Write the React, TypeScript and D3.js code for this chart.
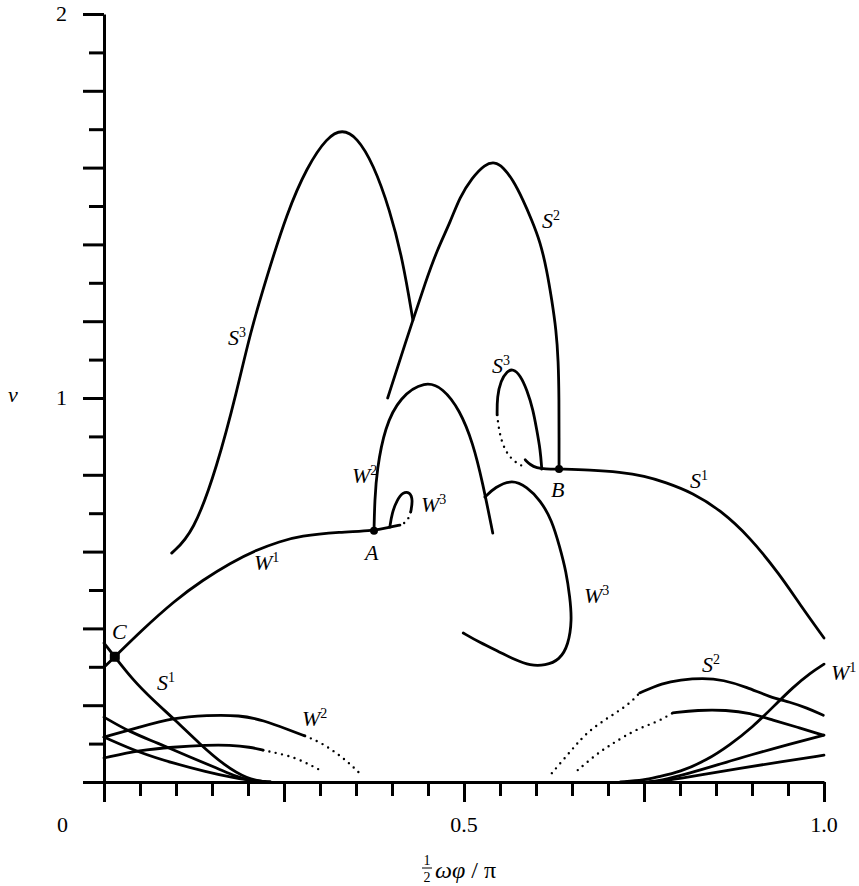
import React, { useEffect, useRef } from "react";
import * as d3 from "d3";

type Pt = [number, number];

// axis ticks
const xMajorTicks = [0, 0.25, 0.5, 0.75, 1.0];
const xMinorTicks = [0.05, 0.1, 0.15, 0.2, 0.3, 0.35, 0.4, 0.45, 0.55, 0.6, 0.65, 0.7, 0.8, 0.85, 0.9, 0.95];
const yMajorTicks = [0, 0.2, 0.4, 0.6, 0.8, 1.0, 1.2, 1.4, 1.6, 1.8, 2.0];
const yMinorTicks = [0.1, 0.3, 0.5, 0.7, 0.9, 1.1, 1.3, 1.5, 1.7, 1.9];
const xTickLabels: [number, string][] = [[0.5, "0.5"], [1.0, "1.0"]];
const yTickLabels: [number, string][] = [[1, "1"], [2, "2"]];

// upper branches
const w1Upper: Pt[] = [[0, 0.299], [0.015, 0.326], [0.05, 0.391], [0.099, 0.474], [0.1375, 0.526], [0.175, 0.57], [0.2125, 0.605], [0.244, 0.626], [0.272, 0.641], [0.328, 0.651], [0.375, 0.654], [0.397, 0.664], [0.411, 0.669]];
const w3SmallSolid: Pt[] = [[0.397, 0.664], [0.4, 0.701], [0.407, 0.734], [0.415, 0.755], [0.425, 0.755], [0.429, 0.734], [0.426, 0.703]];
const w3SmallDots: Pt[] = [[0.426, 0.703], [0.422, 0.682], [0.417, 0.674], [0.411, 0.669]];
const w2Upper: Pt[] = [[0.375, 0.654], [0.376, 0.734], [0.379, 0.8125], [0.39, 0.924], [0.411, 1.003], [0.446, 1.045], [0.471, 1.026], [0.494, 0.969], [0.5125, 0.883], [0.526, 0.779], [0.54, 0.648]];
const w3Big: Pt[] = [[0.529, 0.742], [0.543, 0.768], [0.567, 0.788], [0.5875, 0.768], [0.606, 0.734], [0.622, 0.682], [0.633, 0.612], [0.642, 0.547], [0.647, 0.482], [0.65, 0.422], [0.645, 0.357], [0.633, 0.318], [0.6125, 0.303], [0.592, 0.303], [0.571, 0.318], [0.55, 0.338], [0.522, 0.363], [0.499, 0.388]];
const s3Big: Pt[] = [[0.094, 0.596], [0.124, 0.648], [0.157, 0.82], [0.185, 1.021], [0.203, 1.169], [0.226, 1.315], [0.254, 1.482], [0.282, 1.602], [0.31, 1.68], [0.331, 1.7], [0.351, 1.68], [0.374, 1.61], [0.397, 1.49], [0.415, 1.359], [0.429, 1.203]];
const s2Upper: Pt[] = [[0.394, 1.0], [0.411, 1.099], [0.429, 1.203], [0.446, 1.299], [0.4625, 1.385], [0.481, 1.458], [0.494, 1.523], [0.511, 1.573], [0.529, 1.609], [0.543, 1.615], [0.554, 1.602], [0.568, 1.568], [0.582, 1.516], [0.594, 1.464], [0.606, 1.406], [0.615, 1.333], [0.622, 1.255], [0.628, 1.177], [0.631, 1.099], [0.632, 0.995], [0.632, 0.891], [0.632, 0.815]];
const s3SmallSolid: Pt[] = [[0.546, 0.956], [0.546, 1.003], [0.551, 1.045], [0.56, 1.07], [0.568, 1.076], [0.578, 1.06], [0.5875, 1.021], [0.596, 0.969], [0.601, 0.917], [0.606, 0.865], [0.608, 0.815]];
const s3SmallDots: Pt[] = [[0.546, 0.956], [0.549, 0.911], [0.554, 0.878], [0.561, 0.852], [0.571, 0.833], [0.581, 0.823]];
const s3Hook: Pt[] = [[0.585, 0.839], [0.592, 0.826], [0.601, 0.818], [0.6125, 0.815], [0.632, 0.815]];
const s1Upper: Pt[] = [[0.632, 0.815], [0.675, 0.8125], [0.717, 0.807], [0.751, 0.797], [0.779, 0.781], [0.818, 0.753], [0.856, 0.708], [0.897, 0.638], [0.939, 0.539], [0.967, 0.461], [1.0, 0.375]];

// lower left branches
const s1Lower: Pt[] = [[0, 0.362], [0.015, 0.326], [0.04, 0.266], [0.068, 0.2135], [0.099, 0.161], [0.133, 0.099], [0.168, 0.042], [0.199, 0.008], [0.224, 0]];
const w2LowerSolid: Pt[] = [[0, 0.117], [0.05, 0.143], [0.096, 0.167], [0.143, 0.174], [0.189, 0.174], [0.221, 0.161], [0.258, 0.135], [0.279, 0.12]];
const w2LowerDots: Pt[] = [[0.279, 0.12], [0.3, 0.104], [0.321, 0.078], [0.339, 0.052], [0.356, 0.021]];
const humpLeftSolid: Pt[] = [[0, 0.0625], [0.05, 0.083], [0.096, 0.091], [0.143, 0.096], [0.175, 0.096], [0.203, 0.091], [0.221, 0.083]];
const humpLeftDots: Pt[] = [[0.221, 0.083], [0.24, 0.0755], [0.268, 0.0625], [0.3, 0.031]];
const decayA: Pt[] = [[0, 0.169], [0.036, 0.13], [0.074, 0.102], [0.119, 0.065], [0.157, 0.036], [0.185, 0.013], [0.203, 0.003], [0.231, 0]];
const decayB: Pt[] = [[0, 0.117], [0.05, 0.0755], [0.096, 0.049], [0.143, 0.026], [0.175, 0.013], [0.199, 0.005], [0.231, 0]];

// lower right branches
const s2LowerDots: Pt[] = [[0.622, 0.023], [0.647, 0.078], [0.658, 0.102], [0.671, 0.128], [0.689, 0.154], [0.7125, 0.182], [0.731, 0.206], [0.744, 0.232]];
const s2LowerSolid: Pt[] = [[0.744, 0.232], [0.776, 0.258], [0.8, 0.266], [0.832, 0.271], [0.86, 0.266], [0.893, 0.247], [0.925, 0.221], [0.953, 0.208], [0.976, 0.193], [0.999, 0.174]];
const humpRightDots: Pt[] = [[0.658, 0.031], [0.686, 0.0755], [0.703, 0.096], [0.721, 0.117], [0.744, 0.141], [0.768, 0.156], [0.79, 0.18]];
const humpRightSolid: Pt[] = [[0.79, 0.18], [0.824, 0.1875], [0.865, 0.1875], [0.897, 0.18], [0.929, 0.161], [0.9625, 0.143], [0.999, 0.122]];
const w1Lower: Pt[] = [[0.717, 0], [0.751, 0.005], [0.768, 0.013], [0.8, 0.026], [0.8375, 0.057], [0.869, 0.096], [0.901, 0.143], [0.929, 0.195], [0.957, 0.247], [0.981, 0.284], [1.0, 0.307]];
const riseC: Pt[] = [[0.751, 0], [0.772, 0.003], [0.814, 0.023], [0.856, 0.047], [0.897, 0.07], [0.953, 0.099], [1.0, 0.122]];
const riseD: Pt[] = [[0.758, 0], [0.779, 0.003], [0.828, 0.018], [0.883, 0.036], [0.939, 0.052], [1.0, 0.07]];

const solidCurves = [w1Upper, w3SmallSolid, w2Upper, w3Big, s3Big, s2Upper, s3SmallSolid, s3Hook, s1Upper,
  s1Lower, w2LowerSolid, humpLeftSolid, decayA, decayB, s2LowerSolid, humpRightSolid, w1Lower, riseC, riseD];
const dottedCurves = [w3SmallDots, s3SmallDots, w2LowerDots, humpLeftDots, s2LowerDots, humpRightDots];

// special points A, B, C
const markPoints: Pt[] = [[0.375, 0.654], [0.632, 0.815]];
const pointC: Pt = [0.015, 0.326];

// curve labels: letter, superscript, left x (px), baseline (px)
const curveLabels: [string, string, number, number][] = [
  ["S", "3", 228, 345], ["S", "2", 542, 228], ["S", "3", 492, 373], ["W", "2", 352, 483],
  ["W", "3", 421, 512], ["A", "", 365, 560], ["B", "", 551, 497], ["S", "1", 690, 488],
  ["W", "1", 254, 570], ["W", "3", 584, 603], ["C", "", 112, 639], ["S", "1", 157, 690],
  ["W", "2", 302, 726], ["S", "2", 702, 672], ["W", "1", 831, 680],
];

const FONT = "'Liberation Serif', 'DejaVu Serif', serif";

export default function App() {
  const ref = useRef<SVGSVGElement>(null);

  useEffect(() => {
    const svg = d3.select(ref.current);
    svg.selectAll("*").remove();

    const x = d3.scaleLinear().domain([0, 1]).range([104, 824]);
    const y = d3.scaleLinear().domain([0, 2]).range([782, 14]);

    const styleAxis = (g: any) => {
      g.selectAll("path, line").attr("stroke", "#000").attr("stroke-width", 3);
    };

    // y axis, long and short ticks
    svg.append("g").attr("transform", "translate(104,0)")
      .call(d3.axisLeft(y).tickValues(yMajorTicks).tickSize(21).tickSizeOuter(0).tickFormat(() => ""))
      .call(styleAxis);
    svg.append("g").attr("transform", "translate(104,0)")
      .call(d3.axisLeft(y).tickValues(yMinorTicks).tickSize(15).tickSizeOuter(0).tickFormat(() => ""))
      .call(styleAxis)
      .call((g: any) => g.select(".domain").remove());

    // x axis
    svg.append("g").attr("transform", "translate(0,782)")
      .call(d3.axisBottom(x).tickValues(xMajorTicks).tickSize(20).tickSizeOuter(0).tickFormat(() => ""))
      .call(styleAxis);
    svg.append("g").attr("transform", "translate(0,782)")
      .call(d3.axisBottom(x).tickValues(xMinorTicks).tickSize(14).tickSizeOuter(0).tickFormat(() => ""))
      .call(styleAxis)
      .call((g: any) => g.select(".domain").remove());

    // tick labels
    const labels = svg.append("g").attr("font-family", FONT).attr("font-size", 22).attr("fill", "#000");
    yTickLabels.forEach(([v, t]) => {
      labels.append("text").attr("x", 67).attr("y", y(v) + 7).attr("text-anchor", "end").text(t);
    });
    labels.append("text").attr("x", 68).attr("y", 832).attr("text-anchor", "end").text("0");
    xTickLabels.forEach(([v, t]) => {
      labels.append("text").attr("x", x(v)).attr("y", 832).attr("text-anchor", "middle").text(t);
    });
    labels.append("text").attr("x", 8).attr("y", 402).attr("font-style", "italic").text("ν");

    // x axis title: 1/2 ωφ / π
    const title = svg.append("g").attr("font-family", FONT).attr("fill", "#000");
    title.append("text").attr("x", 427).attr("y", 865).attr("font-size", 14).attr("text-anchor", "middle").text("1");
    title.append("line").attr("x1", 422).attr("x2", 432).attr("y1", 868).attr("y2", 868).attr("stroke", "#000").attr("stroke-width", 1);
    title.append("text").attr("x", 427).attr("y", 882).attr("font-size", 14).attr("text-anchor", "middle").text("2");
    const t2 = title.append("text").attr("x", 435).attr("y", 878).attr("font-size", 24);
    t2.append("tspan").attr("font-style", "italic").text("ωφ");
    t2.append("tspan").text(" / π");

    const line = d3.line<Pt>()
      .x(d => x(d[0]))
      .y(d => y(d[1]))
      .curve(d3.curveBasis);

    svg.append("g").selectAll("path").data(solidCurves).enter().append("path")
      .attr("d", d => line(d))
      .attr("fill", "none").attr("stroke", "#000").attr("stroke-width", 2.8)
      .attr("stroke-linejoin", "round").attr("stroke-linecap", "round");

    svg.append("g").selectAll("path").data(dottedCurves).enter().append("path")
      .attr("d", d => line(d))
      .attr("fill", "none").attr("stroke", "#000").attr("stroke-width", 2.4)
      .attr("stroke-dasharray", "0 6.5").attr("stroke-linecap", "round");

    svg.append("g").selectAll("circle").data(markPoints).enter().append("circle")
      .attr("cx", d => x(d[0])).attr("cy", d => y(d[1])).attr("r", 4).attr("fill", "#000");
    svg.append("rect")
      .attr("x", x(pointC[0]) - 5).attr("y", y(pointC[1]) - 5).attr("width", 10).attr("height", 10)
      .attr("rx", 3).attr("fill", "#000");

    // curve labels
    const cl = svg.append("g").attr("font-family", FONT).attr("fill", "#000");
    curveLabels.forEach(([l, s, px, py]) => {
      const t = cl.append("text").attr("x", px).attr("y", py).attr("font-size", 22);
      t.append("tspan").attr("font-style", "italic").text(l);
      if (s) t.append("tspan").attr("font-size", 14).attr("dy", -8).text(s);
    });
  }, []);

  return (
    <svg ref={ref} width={859} height={886}
      style={{ position: "absolute", left: 0, top: 0, background: "#fff" }} />
  );
}
